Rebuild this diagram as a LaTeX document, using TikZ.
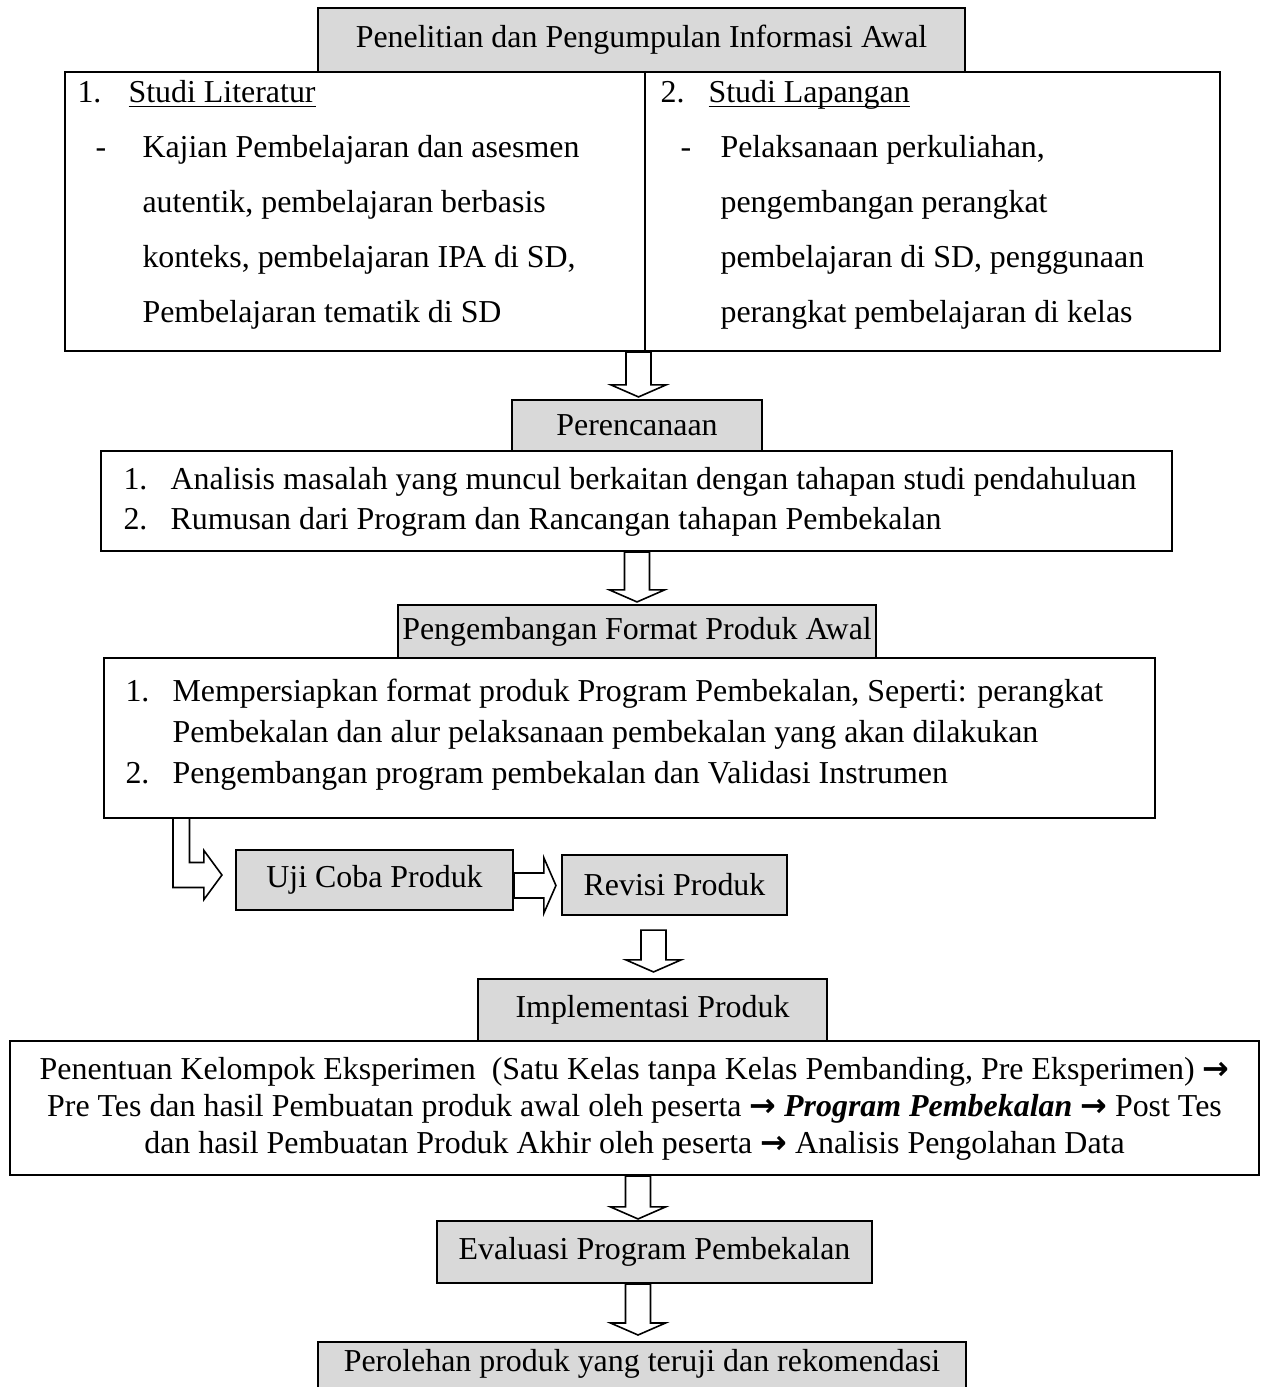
\documentclass[tikz,border=0pt]{standalone}
\usepackage{fontspec}
\setmainfont{Liberation Serif}
\newfontfamily\arrowfont{DejaVu Sans}
\usetikzlibrary{calc}

\definecolor{boxgray}{HTML}{D9D9D9}
\newlength{\pxu}
\setlength{\pxu}{0.376pt}
\newcommand{\rarr}{{\arrowfont\bfseries →}}
\newcommand{\ultitle}[1]{\underline{\smash{#1}}}

% hollow block arrows: start point, tip point
\newcommand{\blockdown}[2]{%
  \draw[blockarrow] ($(#1)+(-12.5,0)$) -- ($(#2)+(-12.5,-12)$) -- ($(#2)+(-27.5,-12)$) -- (#2)
    -- ($(#2)+(27.5,-12)$) -- ($(#2)+(12.5,-12)$) -- ($(#1)+(12.5,0)$) -- cycle;}
\newcommand{\blockright}[2]{%
  \draw[blockarrow] ($(#1)+(0,-12.5)$) -- ($(#2)+(-12,-12.5)$) -- ($(#2)+(-12,-27.5)$) -- (#2)
    -- ($(#2)+(-12,27.5)$) -- ($(#2)+(-12,12.5)$) -- ($(#1)+(0,12.5)$) -- cycle;}

\tikzset{
  graybox/.style={draw, line width=0.8pt, fill=boxgray, inner sep=0pt, font=\fontsize{12}{14}\selectfont},
  plainbox/.style={draw, line width=0.8pt, inner sep=0pt},
  boxline/.style={line width=0.8pt},
  txt/.style={inner sep=0pt, text height=8.2pt, text depth=2.6pt, font=\fontsize{12}{14}\selectfont},
  blockarrow/.style={draw, line width=0.6pt, fill=white, line join=miter},
}

\begin{document}
\begin{tikzpicture}[x=0.376pt, y=-0.376pt]
  \useasboundingbox (0,0) rectangle (1265,1387);

  % Penelitian dan pengumpulan informasi awal
  \node[graybox, minimum width=647\pxu, minimum height=64\pxu] (info) at (641.5,40) {Penelitian dan Pengumpulan Informasi Awal};
  \node[plainbox, minimum width=1155\pxu, minimum height=279\pxu] (studi) at (642.5,211.5) {};
  \draw[boxline] (645,0 |- studi.north) -- (645,0 |- studi.south);

  % studi literatur
  \node[txt, anchor=west] (litnum) at (77,95) {1.};
  \node[txt, anchor=west] (littitle) at (128,95) {\ultitle{Studi Literatur}};
  \node[txt, anchor=west] (litdash) at (95,150) {-};
  \foreach \line [count=\i] in {{Kajian Pembelajaran dan asesmen}, {autentik, pembelajaran berbasis},
      {konteks, pembelajaran IPA di SD,}, {Pembelajaran tematik di SD}}
    \node[txt, anchor=west] (lit\i) at (142,95+55*\i) {\line};

  % studi lapangan
  \node[txt, anchor=west] (lapnum) at (660,95) {2.};
  \node[txt, anchor=west] (laptitle) at (708,95) {\ultitle{Studi Lapangan}};
  \node[txt, anchor=west] (lapdash) at (680,150) {-};
  \foreach \line [count=\i] in {{Pelaksanaan perkuliahan,}, {pengembangan perangkat},
      {pembelajaran di SD, penggunaan}, {perangkat pembelajaran di kelas}}
    \node[txt, anchor=west] (lap\i) at (720,95+55*\i) {\line};

  % perencanaan
  \node[graybox, minimum width=250\pxu, minimum height=51\pxu] (plan) at (637,425.5) {Perencanaan};
  \node[plainbox, minimum width=1071\pxu, minimum height=100\pxu] (planlist) at (636.5,501) {};
  \node[txt, anchor=west] (plannum1) at (123,482) {1.};
  \node[txt, anchor=west] (plan1) at (170,482) {Analisis masalah yang muncul berkaitan dengan tahapan studi pendahuluan};
  \node[txt, anchor=west] (plannum2) at (123,522) {2.};
  \node[txt, anchor=west] (plan2) at (170,522) {Rumusan dari Program dan Rancangan tahapan Pembekalan};

  % pengembangan format produk awal
  \node[graybox, minimum width=478\pxu, minimum height=53\pxu] (format) at (637,631.5) {Pengembangan Format Produk Awal};
  \node[plainbox, minimum width=1051\pxu, minimum height=160\pxu] (formatlist) at (629.5,738) {};
  \node[txt, anchor=west] (formatnum1) at (125,694) {1.};
  \node[txt, anchor=west] (format1) at (172,694) {Mempersiapkan format produk Program Pembekalan, Seperti: perangkat};
  \node[txt, anchor=west] (format1b) at (172,735) {Pembekalan dan alur pelaksanaan pembekalan yang akan dilakukan};
  \node[txt, anchor=west] (formatnum2) at (125,776) {2.};
  \node[txt, anchor=west] (format2) at (172,776) {Pengembangan program pembekalan dan Validasi Instrumen};

  % uji coba dan revisi
  \node[graybox, minimum width=277\pxu, minimum height=60\pxu] (uji) at (374.5,880) {Uji Coba Produk};
  \node[graybox, minimum width=225\pxu, minimum height=60\pxu] (revisi) at (674.5,885) {Revisi Produk};

  % implementasi
  \node[graybox, minimum width=349\pxu, minimum height=62\pxu] (impl) at (652.5,1010) {Implementasi Produk};
  \node[plainbox, minimum width=1249\pxu, minimum height=134\pxu] (impllist) at (634.5,1108) {};
  \node[txt] (impl1) at (634.5,1072) {Penentuan Kelompok Eksperimen\ \ (Satu Kelas tanpa Kelas Pembanding, Pre Eksperimen) \rarr};
  \node[txt] (impl2) at (634.5,1109) {Pre Tes dan hasil Pembuatan produk awal oleh peserta \rarr{} \textbf{\textit{Program Pembekalan}} \rarr{} Post Tes};
  \node[txt] (impl3) at (634.5,1146) {dan hasil Pembuatan Produk Akhir oleh peserta \rarr{} Analisis Pengolahan Data};

  % evaluasi dan hasil (the last box runs past the bottom edge)
  \node[graybox, minimum width=435\pxu, minimum height=62\pxu] (eval) at (654.5,1252) {Evaluasi Program Pembekalan};
  \node[graybox, anchor=north, minimum width=648\pxu, text height=10.9pt, text depth=10pt] (result) at (642,1341) {Perolehan produk yang teruji dan rekomendasi};

  % block arrows
  \coordinate (a1s) at (638.5,0 |- studi.south);
  \coordinate (a1e) at ($(638.5,0 |- plan.north)+(0,-2)$);
  \blockdown{a1s}{a1e}
  \coordinate (a2s) at (637,0 |- planlist.south);
  \coordinate (a2e) at ($(637,0 |- format.north)+(0,-2)$);
  \blockdown{a2s}{a2e}

  \coordinate (b1) at (173,0 |- formatlist.south);
  \coordinate (b2) at ($(uji.west)+(-13,-5)$);
  \draw[blockarrow] (b1) |- ($(b2)+(-18,12.5)$) -- ($(b2)+(-18,24.5)$) -- (b2)
    -- ($(b2)+(-18,-24.5)$) -- ($(b2)+(-18,-12.5)$) -| ($(b1)+(16.5,0)$);

  \coordinate (c1) at ($(uji.east)+(0,5.5)$);
  \coordinate (c2) at ($(c1 -| revisi.west)+(-5,0)$);
  \blockright{c1}{c2}

  \coordinate (a3s) at ($(653.5,0 |- revisi.south)+(0,14)$);
  \coordinate (a3e) at ($(653.5,0 |- impl.north)+(0,-6)$);
  \blockdown{a3s}{a3e}
  \coordinate (a4s) at (638,0 |- impllist.south);
  \coordinate (a4e) at ($(638,0 |- eval.north)+(0,-1)$);
  \blockdown{a4s}{a4e}
  \coordinate (a5s) at (638,0 |- eval.south);
  \coordinate (a5e) at ($(638,0 |- result.north)+(0,-6)$);
  \blockdown{a5s}{a5e}
\end{tikzpicture}
\end{document}
